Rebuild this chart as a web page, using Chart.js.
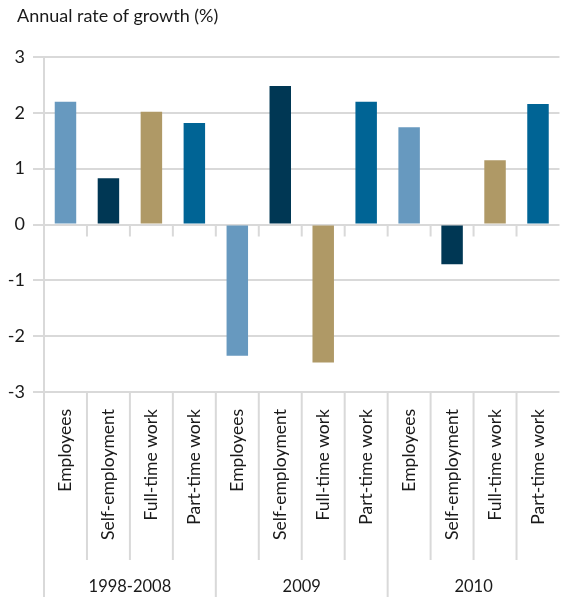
<!DOCTYPE html>
<html>
<head>
<meta charset="utf-8">
<script src="https://cdn.jsdelivr.net/npm/chart.js@4.4.1/dist/chart.umd.min.js"></script>
<style>
  html, body { margin: 0; padding: 0; background: #fff; }
  .wrap { position: relative; width: 576px; height: 597px; }
  canvas { display: block; }
  .title {
    position: absolute; left: 17px; top: 4px;
    font: 18px Lato, "Open Sans", sans-serif; color: #1a1a1a;
    line-height: 22px; white-space: nowrap;
  }
</style>
</head>
<body>
<div class="wrap">
  <canvas id="growthChart" width="576" height="597"></canvas>
  <div class="title">Annual rate of growth (%)</div>
</div>
<script>
// ─── Data ────────────────────────────────────────────────────────────────────
const GROUPS     = ['1998-2008', '2009', '2010'];
const CATEGORIES = ['Employees', 'Self-employment', 'Full-time work', 'Part-time work'];
const Y_TICKS    = [-3, -2, -1, 0, 1, 2, 3];

const g1998_2008 = [2.2, 0.83, 2.02, 1.82];
const g2009      = [-2.35, 2.48, -2.47, 2.2];
const g2010      = [1.74, -0.71, 1.15, 2.16];

const COLORS = ['#6799bf', '#003754', '#af9966', '#006495'];
const GRID   = '#d9d9d9';
const FONT   = 'Lato, "Open Sans", sans-serif';

const labels = [...CATEGORIES, ...CATEGORIES, ...CATEGORIES];
const values = [...g1998_2008, ...g2009, ...g2010];

// ─── Separator lines (zero-line ticks, label dividers) ───────────────────────
const separators = {
  id: 'separators',
  afterDraw(chart) {
    const { ctx, chartArea: area, scales } = chart;
    const xs = scales.x, ys = scales.y;
    const y0 = ys.getPixelForValue(0);
    const n = labels.length;
    ctx.save();
    ctx.strokeStyle = GRID;
    ctx.lineWidth = 2;
    for (let i = 0; i < n; i++) {
      const bx = i === 0
        ? area.left
        : (xs.getPixelForValue(i - 1) + xs.getPixelForValue(i)) / 2;
      const isGroup = i % CATEGORIES.length === 0;
      ctx.beginPath();
      if (i > 0) {
        ctx.moveTo(bx, y0);
        ctx.lineTo(bx, y0 + 12);
      }
      ctx.moveTo(bx, area.bottom);
      ctx.lineTo(bx, isGroup ? chart.height : area.bottom + 168);
      ctx.stroke();
    }
    ctx.restore();
  }
};

// ─── Chart ───────────────────────────────────────────────────────────────────
new Chart(document.getElementById('growthChart'), {
  type: 'bar',
  data: {
    labels: labels,
    datasets: [{
      data: values,
      backgroundColor: labels.map((_, i) => COLORS[i % COLORS.length]),
      barPercentage: 0.5,
      categoryPercentage: 1
    }]
  },
  options: {
    responsive: false,
    animation: false,
    layout: { padding: { left: 0, right: 0, top: 57, bottom: 0 } },
    scales: {
      y: {
        min: -3,
        max: 3,
        afterBuildTicks: (s) => { s.ticks = Y_TICKS.map(v => ({ value: v })); },
        afterFit: (s) => { s.width = 44; },
        grid: { color: GRID, lineWidth: 2, tickLength: 11, drawTicks: true },
        border: { color: GRID, width: 2 },
        ticks: {
          padding: 8,
          color: '#1a1a1a',
          font: { family: FONT, size: 18 },
          callback: (v) => String(v)
        }
      },
      x: {
        afterFit: (s) => { s.height = 170; },
        grid: { display: false, drawTicks: false },
        border: { display: false },
        ticks: {
          autoSkip: false,
          minRotation: 90,
          maxRotation: 90,
          padding: 17,
          color: '#1a1a1a',
          font: { family: FONT, size: 17.5 }
        }
      },
      x2: {
        type: 'category',
        position: 'bottom',
        labels: GROUPS,
        offset: true,
        afterFit: (s) => { s.height = 35; },
        grid: { display: false, drawTicks: false },
        border: { display: false },
        ticks: {
          padding: 15,
          color: '#1a1a1a',
          font: { family: FONT, size: 16.5 }
        }
      }
    },
    plugins: {
      legend: { display: false },
      tooltip: { enabled: false },
      title: { display: false }
    }
  },
  plugins: [separators]
});
</script>
</body>
</html>
